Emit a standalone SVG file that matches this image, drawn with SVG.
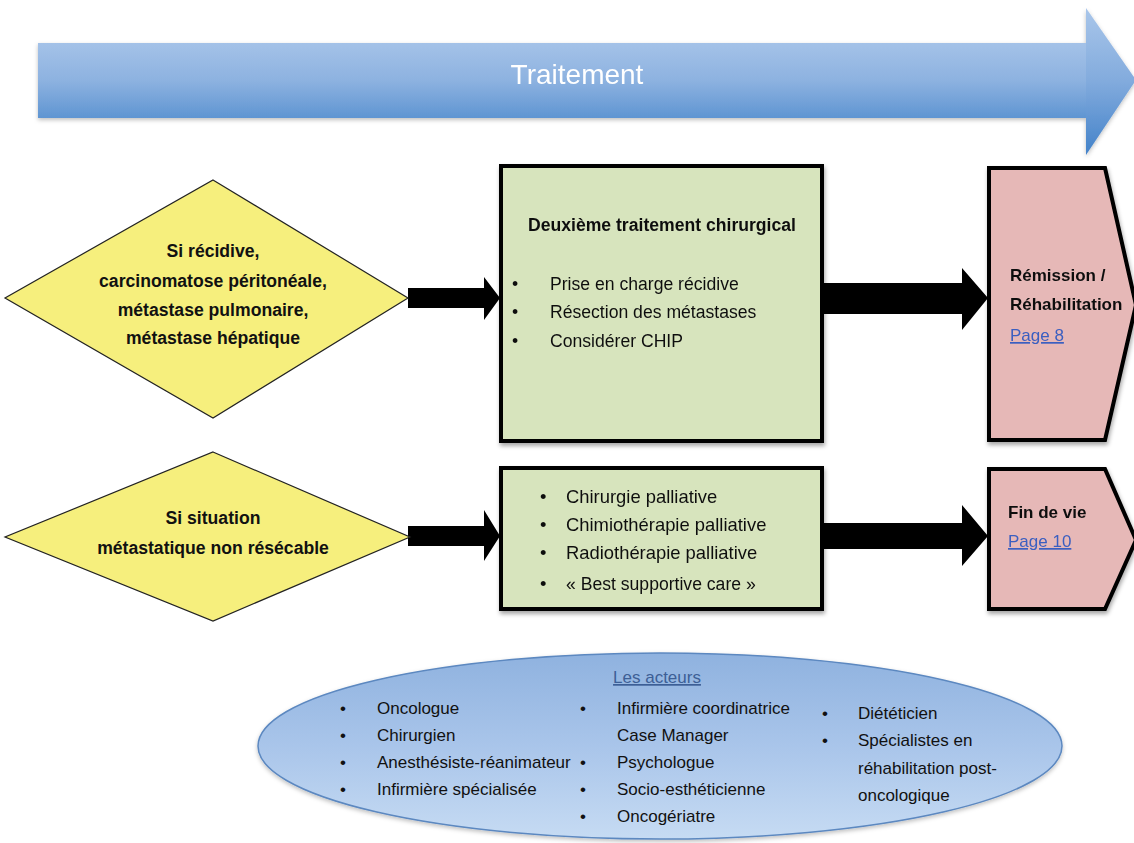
<svg xmlns="http://www.w3.org/2000/svg" width="1134" height="843" viewBox="0 0 1134 843">
  <defs>
    <linearGradient id="gradBand" x1="0" y1="0" x2="0" y2="1">
      <stop offset="0" stop-color="#a4c2e8"/>
      <stop offset="0.5" stop-color="#8db2e0"/>
      <stop offset="1" stop-color="#5f95d2"/>
    </linearGradient>
    <linearGradient id="gradHead" gradientUnits="userSpaceOnUse" x1="0" y1="8" x2="0" y2="155">
      <stop offset="0" stop-color="#a9c6ea"/>
      <stop offset="0.5" stop-color="#82abdd"/>
      <stop offset="1" stop-color="#4382c9"/>
    </linearGradient>
    <linearGradient id="gradOval" x1="0" y1="0" x2="0" y2="1">
      <stop offset="0" stop-color="#8fb2df"/>
      <stop offset="0.5" stop-color="#a9c5ea"/>
      <stop offset="1" stop-color="#c6dbf3"/>
    </linearGradient>
    <filter id="shadow" x="-10%" y="-10%" width="125%" height="130%">
      <feDropShadow dx="1" dy="3" stdDeviation="2" flood-color="#000" flood-opacity="0.35"/>
    </filter>
    <filter id="soft" x="-5%" y="-10%" width="110%" height="130%">
      <feDropShadow dx="0" dy="2" stdDeviation="2" flood-color="#000" flood-opacity="0.25"/>
    </filter>
  </defs>
  <style>
    .t { font-family: "Liberation Sans", Arial, sans-serif; font-size: 17.6px; fill: #111; }
    .s { font-size: 17px; }
    .p { font-size: 18.4px; }
    .b { font-weight: bold; }
    .c { text-anchor: middle; }
    .link { fill: #3a5ec0; text-decoration: underline; }
    .diamond { fill: #f6ef7d; stroke: #222; stroke-width: 1.2; }
    .box { fill: #d7e4bd; stroke: #000; stroke-width: 4; }
    .end { fill: #e6b8b7; stroke: #000; stroke-width: 4; stroke-linejoin: miter; }
    .conn { fill: #000; }
  </style>

  <rect width="1134" height="843" fill="#fff"/>

  <!-- timeline band -->
  <g id="band" filter="url(#soft)">
    <rect x="38" y="43" width="1050" height="75" fill="url(#gradBand)"/>
    <polygon points="1086,8 1136,80 1086,155" fill="url(#gradHead)"/>
    <text x="577" y="84" class="c" style="font-family:'Liberation Sans',Arial,sans-serif;font-size:28px;fill:#fff">Traitement</text>
  </g>

  <!-- connectors -->
  <g id="connectors">
    <polygon class="conn" points="408,288 484,288 484,277 500,298 484,320 484,308 408,308"/>
    <polygon class="conn" points="823,283 962,283 962,268 988,298 962,330 962,314 823,314"/>
    <polygon class="conn" points="408,526 484,526 484,510 500,536 484,561 484,546 408,546"/>
    <polygon class="conn" points="823,523 962,523 962,505 988,536 962,566 962,549 823,549"/>
  </g>

  <!-- decision: recurrence -->
  <g id="d1">
    <polygon class="diamond" points="213,180 408,298 213,418 5,298"/>
    <text class="t b c" x="213" y="257">Si récidive,</text>
    <text class="t b c" x="213" y="287">carcinomatose péritonéale,</text>
    <text class="t b c" x="213" y="316">métastase pulmonaire,</text>
    <text class="t b c" x="213" y="344">métastase hépatique</text>
  </g>

  <!-- second surgical treatment -->
  <g id="box1" filter="url(#shadow)">
    <rect class="box" x="501" y="166" width="321" height="275"/>
    <text class="t b" x="528" y="231">Deuxième traitement chirurgical</text>
    <text class="t" x="512" y="290">•</text>
    <text class="t" x="550" y="290">Prise en charge récidive</text>
    <text class="t" x="512" y="318">•</text>
    <text class="t" x="550" y="318">Résection des métastases</text>
    <text class="t" x="512" y="347">•</text>
    <text class="t" x="550" y="347">Considérer CHIP</text>
  </g>

  <!-- remission -->
  <g id="end1" filter="url(#shadow)">
    <polygon class="end" points="989,168 1105,168 1136,305 1105,440 989,440"/>
    <text class="t s b" x="1010" y="281">Rémission /</text>
    <text class="t s b" x="1010" y="310">Réhabilitation</text>
    <text class="t s link" x="1010" y="341">Page 8</text>
  </g>

  <!-- decision: non-resectable -->
  <g id="d2">
    <polygon class="diamond" points="213,452 410,537 213,621 5,537"/>
    <text class="t b c" x="213" y="524">Si situation</text>
    <text class="t b c" x="213" y="554">métastatique non résécable</text>
  </g>

  <!-- palliative care -->
  <g id="box2" filter="url(#shadow)">
    <rect class="box" x="501" y="468" width="321" height="141"/>
    <text class="t p" x="540" y="503">•</text>
    <text class="t p" x="566" y="503">Chirurgie palliative</text>
    <text class="t p" x="540" y="531">•</text>
    <text class="t p" x="566" y="531">Chimiothérapie palliative</text>
    <text class="t p" x="540" y="559">•</text>
    <text class="t p" x="566" y="559">Radiothérapie palliative</text>
    <text class="t p" x="540" y="590">•</text>
    <text class="t" x="566" y="590">« Best supportive care »</text>
  </g>

  <!-- end of life -->
  <g id="end2" filter="url(#shadow)">
    <polygon class="end" points="989,469 1105,469 1136,540 1105,609 989,609"/>
    <text class="t s b" x="1008" y="518">Fin de vie</text>
    <text class="t s link" x="1008" y="547">Page 10</text>
  </g>

  <!-- care team -->
  <g id="actors">
    <ellipse cx="660" cy="746" rx="402" ry="93" fill="url(#gradOval)" stroke="#5c88c0" stroke-width="1.5" filter="url(#soft)"/>
    <text class="t s c" x="657" y="683" style="fill:#3d5f96;text-decoration:underline">Les acteurs</text>
    <text class="t s" x="340" y="714">•</text>
    <text class="t s" x="377" y="714">Oncologue</text>
    <text class="t s" x="340" y="741">•</text>
    <text class="t s" x="377" y="741">Chirurgien</text>
    <text class="t s" x="340" y="768">•</text>
    <text class="t s" x="377" y="768">Anesthésiste-réanimateur</text>
    <text class="t s" x="340" y="795">•</text>
    <text class="t s" x="377" y="795">Infirmière spécialisée</text>

    <text class="t s" x="580" y="714">•</text>
    <text class="t s" x="617" y="714">Infirmière coordinatrice</text>
    <text class="t s" x="617" y="741">Case Manager</text>
    <text class="t s" x="580" y="768">•</text>
    <text class="t s" x="617" y="768">Psychologue</text>
    <text class="t s" x="580" y="795">•</text>
    <text class="t s" x="617" y="795">Socio-esthéticienne</text>
    <text class="t s" x="580" y="822">•</text>
    <text class="t s" x="617" y="822">Oncogériatre</text>

    <text class="t s" x="822" y="719">•</text>
    <text class="t s" x="858" y="719">Diététicien</text>
    <text class="t s" x="822" y="746">•</text>
    <text class="t s" x="858" y="746">Spécialistes en</text>
    <text class="t s" x="858" y="774">réhabilitation post-</text>
    <text class="t s" x="858" y="801">oncologique</text>
  </g>
</svg>
